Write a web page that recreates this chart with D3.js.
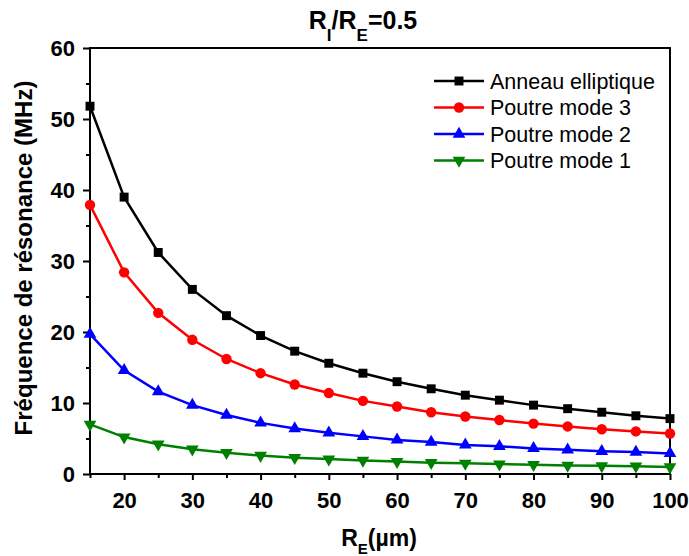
<!DOCTYPE html>
<html>
<head>
<meta charset="utf-8">
<script src="https://cdn.jsdelivr.net/npm/d3@7"></script>
<style>
body { margin: 0; background: #fff; }
text { font-family: "Liberation Sans", Arial, sans-serif; }
</style>
</head>
<body>
<svg id="viz" width="689" height="556"></svg>
<script>
var rE = [15, 20, 25, 30, 35, 40, 45, 50, 55, 60, 65, 70, 75, 80, 85, 90, 95, 100];
var anneau = [51.8, 39, 31.2, 26, 22.3, 19.5, 17.3, 15.6, 14.2, 13, 12, 11.1, 10.4, 9.7, 9.2, 8.7, 8.2, 7.8];
var mode3 = [37.9, 28.4, 22.7, 18.9, 16.2, 14.2, 12.6, 11.4, 10.3, 9.5, 8.7, 8.1, 7.6, 7.1, 6.7, 6.3, 6.0, 5.7];
var mode2 = [19.7, 14.6, 11.6, 9.7, 8.3, 7.2, 6.4, 5.8, 5.3, 4.8, 4.5, 4.1, 3.9, 3.6, 3.4, 3.2, 3.1, 2.9];
var mode1 = [7.0, 5.2, 4.2, 3.5, 3.0, 2.6, 2.3, 2.1, 1.9, 1.75, 1.6, 1.5, 1.4, 1.3, 1.2, 1.15, 1.1, 1.0];
var seriesNames = ["Anneau elliptique", "Poutre mode 3", "Poutre mode 2", "Poutre mode 1"];
var xTicks = [20, 30, 40, 50, 60, 70, 80, 90, 100];
var yTicks = [0, 10, 20, 30, 40, 50, 60];

var series = [
    {name: seriesNames[0], values: anneau, color: "#000000", sym: d3.symbolSquare, size: 80, rot: 0},
    {name: seriesNames[1], values: mode3, color: "#ff0000", sym: d3.symbolCircle, size: 85, rot: 0},
    {name: seriesNames[2], values: mode2, color: "#0000ff", sym: d3.symbolTriangle, size: 70, rot: 0},
    {name: seriesNames[3], values: mode1, color: "#008000", sym: d3.symbolTriangle, size: 70, rot: 180}
];

var svg = d3.select("#viz");
var mLeft = 90, mRight = 670, mTop = 48, mBottom = 474;

var x = d3.scaleLinear().domain([15, 100]).range([mLeft, mRight]);
var y = d3.scaleLinear().domain([0, 60]).range([mBottom, mTop]);

// frame
svg.append("rect")
    .attr("x", mLeft).attr("y", mTop)
    .attr("width", mRight - mLeft).attr("height", mBottom - mTop)
    .attr("fill", "none").attr("stroke", "#000").attr("stroke-width", 2);

// minor ticks
var xMinor = d3.range(15, 101, 5).filter(function(v) { return v % 10 != 0; });
var yMinor = d3.range(5, 60, 10);

svg.append("g").attr("transform", "translate(0," + mBottom + ")")
    .call(d3.axisBottom(x).tickValues(xTicks).tickSize(6).tickPadding(12).tickFormat(d3.format("d")));
svg.append("g").attr("transform", "translate(0," + mBottom + ")")
    .call(d3.axisBottom(x).tickValues(xMinor).tickSize(4).tickFormat(""));
svg.append("g").attr("transform", "translate(" + mLeft + ",0)")
    .call(d3.axisLeft(y).tickValues(yTicks).tickSize(7).tickPadding(8).tickFormat(d3.format("d")));
svg.append("g").attr("transform", "translate(" + mLeft + ",0)")
    .call(d3.axisLeft(y).tickValues(yMinor).tickSize(4).tickFormat(""));

svg.selectAll(".domain").remove();
svg.selectAll(".tick line").attr("stroke", "#000").attr("stroke-width", 2);
svg.selectAll(".tick text")
    .attr("fill", "#000")
    .style("font-size", "22px")
    .style("font-weight", "bold")
    .style("font-family", "'Liberation Sans', Arial, sans-serif");

// lines and markers
var line = d3.line()
    .x(function(d, i) { return x(rE[i]); })
    .y(function(d) { return y(d); });

var plot = svg.append("g");
series.forEach(function(s) {
    plot.append("path")
        .datum(s.values)
        .attr("d", line)
        .attr("fill", "none")
        .attr("stroke", s.color)
        .attr("stroke-width", 2.5);
    plot.selectAll(null)
        .data(s.values)
        .enter().append("path")
        .attr("d", d3.symbol().type(s.sym).size(s.size))
        .attr("transform", function(d, i) {
            return "translate(" + x(rE[i]) + "," + y(d) + ") rotate(" + s.rot + ")";
        })
        .attr("fill", s.color);
});

// legend
var legend = svg.append("g");
series.forEach(function(s, i) {
    var ly = 81 + i * 26.5;
    legend.append("line")
        .attr("x1", 434).attr("x2", 484)
        .attr("y1", ly).attr("y2", ly)
        .attr("stroke", s.color).attr("stroke-width", 2.5);
    legend.append("path")
        .attr("d", d3.symbol().type(s.sym).size(s.size))
        .attr("transform", "translate(459," + ly + ") rotate(" + s.rot + ")")
        .attr("fill", s.color);
    legend.append("text")
        .attr("x", 490).attr("y", ly)
        .attr("dy", "0.36em")
        .style("font-size", "21.5px")
        .text(s.name);
});

// title
var title = svg.append("text")
    .attr("x", 363).attr("y", 29)
    .attr("text-anchor", "middle")
    .style("font-size", "25px")
    .style("font-weight", "bold");
title.append("tspan").text("R");
title.append("tspan").attr("dy", 12).style("font-size", "17px").text("I");
title.append("tspan").attr("dy", -12).text("/R");
title.append("tspan").attr("dy", 12).style("font-size", "17px").text("E");
title.append("tspan").attr("dy", -12).text("=0.5");

// x label
var xl = svg.append("text")
    .attr("x", 379).attr("y", 546)
    .attr("text-anchor", "middle")
    .style("font-size", "23px")
    .style("font-weight", "bold");
xl.append("tspan").text("R");
xl.append("tspan").attr("dy", 8).style("font-size", "15px").text("E");
xl.append("tspan").attr("dy", -8).text("(µm)");

// y label
svg.append("text")
    .attr("transform", "translate(32,258) rotate(-90)")
    .attr("text-anchor", "middle")
    .style("font-size", "24px")
    .style("font-weight", "bold")
    .text("Fréquence de résonance (MHz)");
</script>
</body>
</html>
